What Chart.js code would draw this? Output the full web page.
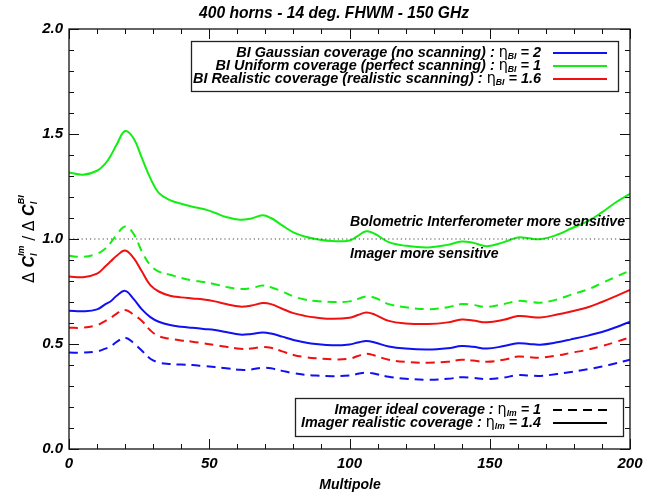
<!DOCTYPE html>
<html>
<head>
<meta charset="utf-8">
<script src="https://cdn.jsdelivr.net/npm/chart.js@4/dist/chart.umd.min.js"></script>
<style>
  html, body { margin: 0; padding: 0; background: #fff; }
  canvas { display: block; }
</style>
</head>
<body>
<canvas id="c" width="671" height="499"></canvas>
<script>
// ── Data (multipole vs. sensitivity ratio) ──
const MULTIPOLE = [0,5,10,13,15,17,20,23,26,29,32,36,40,44,48,52,56,61,65,69,72,76,80,84,88,94,
  100,103,106,109,114,120,128,135,140,144,149,155,160,164,168,174,179,185,190,195,200];

// solid = imager realistic coverage (eta_Im = 1.4)
const UNIFORM_SOLID = [1.317,1.306,1.325,1.36,1.40,1.45,1.514,1.48,1.385,1.29,1.22,1.185,1.168,1.154,1.143,1.125,1.105,1.092,1.098,1.113,1.10,1.065,1.032,1.012,1.0,0.99,
  0.993,1.015,1.037,1.025,0.985,0.968,0.96,0.972,0.988,0.982,0.966,0.985,1.007,1.003,0.999,1.02,1.05,1.085,1.127,1.175,1.215];
const REALISTIC_SOLID = [0.822,0.818,0.835,0.87,0.895,0.92,0.945,0.91,0.845,0.78,0.75,0.73,0.722,0.717,0.712,0.703,0.69,0.678,0.683,0.695,0.69,0.668,0.647,0.634,0.626,0.62,
  0.625,0.638,0.65,0.64,0.61,0.598,0.595,0.603,0.617,0.612,0.603,0.615,0.633,0.63,0.626,0.64,0.655,0.675,0.70,0.728,0.758];
const GAUSSIAN_SOLID = [0.658,0.656,0.665,0.69,0.705,0.73,0.753,0.715,0.665,0.628,0.606,0.59,0.582,0.577,0.572,0.567,0.557,0.545,0.548,0.555,0.55,0.535,0.519,0.508,0.50,0.494,
  0.498,0.507,0.514,0.507,0.488,0.478,0.474,0.48,0.49,0.487,0.478,0.49,0.503,0.50,0.497,0.508,0.522,0.54,0.557,0.58,0.606];

// dashed = imager ideal coverage (eta_Im = 1)
const UNIFORM_DASH = [0.92,0.915,0.93,0.955,0.985,1.02,1.06,1.025,0.94,0.875,0.845,0.83,0.815,0.803,0.795,0.785,0.772,0.762,0.766,0.778,0.77,0.75,0.727,0.712,0.705,0.70,
  0.703,0.715,0.727,0.72,0.69,0.675,0.666,0.675,0.69,0.686,0.677,0.69,0.705,0.702,0.697,0.712,0.735,0.76,0.79,0.82,0.85];
const REALISTIC_DASH = [0.577,0.578,0.59,0.61,0.625,0.645,0.662,0.64,0.61,0.565,0.537,0.525,0.517,0.511,0.503,0.495,0.487,0.477,0.478,0.486,0.482,0.465,0.448,0.438,0.432,0.427,
  0.43,0.443,0.453,0.445,0.425,0.415,0.411,0.416,0.425,0.421,0.415,0.425,0.44,0.437,0.435,0.445,0.458,0.473,0.49,0.51,0.532];
const GAUSSIAN_DASH = [0.459,0.459,0.465,0.478,0.49,0.51,0.53,0.505,0.468,0.43,0.412,0.405,0.402,0.40,0.395,0.39,0.385,0.377,0.379,0.387,0.384,0.372,0.361,0.354,0.35,0.347,
  0.35,0.358,0.364,0.358,0.344,0.335,0.33,0.334,0.342,0.339,0.333,0.34,0.352,0.35,0.348,0.357,0.367,0.38,0.393,0.408,0.425];

// dotted "equal sensitivity" reference
const REF_X = [0, 200];
const REF_Y = [1, 1];

const X_TICKS = [0, 50, 100, 150, 200];
const Y_TICKS = [0.0, 0.5, 1.0, 1.5, 2.0];

// ── styling ──
const BLUE = "#1010f0", GREEN = "#12ee12", RED = "#f01010";
const FONT = '"Liberation Sans", Arial, sans-serif';
const BI = `italic bold 15px ${FONT}`;
const SUB = `italic bold 9px ${FONT}`;
const ETA = `15px "DejaVu Sans", sans-serif`;
const DASH = [9, 6];

const pts = (xs, ys) => xs.map((x, i) => ({ x, y: ys[i] }));
const series = (ys, color, dashed) => ({
  data: pts(MULTIPOLE, ys), borderColor: color, borderWidth: 2,
  borderDash: dashed ? DASH : [], pointRadius: 0,
  tension: 0.4, fill: false
});

// draw a run of text segments (with sub/superscripts), squeezed by k
function runWidth(ctx, parts) {
  let w = 0;
  for (const p of parts) { ctx.font = p.font; w += ctx.measureText(p.t).width; }
  return w;
}
function drawRun(ctx, parts, x, y, k) {
  ctx.save();
  ctx.translate(x, y); ctx.scale(k, 1);
  let cx = 0;
  for (const p of parts) {
    ctx.font = p.font;
    ctx.fillText(p.t, cx, p.dy || 0);
    cx += ctx.measureText(p.t).width;
  }
  ctx.restore();
}
const etaPart = (sub, rest) => [
  { t: "\u03b7", font: ETA }, { t: sub, font: SUB, dy: 4 }, { t: rest, font: BI }
];

const decor = {
  id: "decor",
  beforeDraw(chart) {
    const ctx = chart.ctx;
    ctx.save(); ctx.fillStyle = "#fff"; ctx.fillRect(0, 0, chart.width, chart.height); ctx.restore();
  },
  afterDraw(chart) {
    const ctx = chart.ctx, a = chart.chartArea;
    const xs = chart.scales.x, ys = chart.scales.y;
    ctx.save();
    ctx.fillStyle = "#000"; ctx.strokeStyle = "#111";
    ctx.textBaseline = "middle";

    // frame + inward ticks (IDL style)
    ctx.lineWidth = 1.3;
    ctx.strokeRect(a.left, a.top, a.right - a.left, a.bottom - a.top);
    ctx.lineWidth = 1;
    ctx.beginPath();
    for (let v = 0; v <= 200; v += 10) {
      const px = Math.round(xs.getPixelForValue(v)) + 0.5, len = v % 50 === 0 ? 10 : 5;
      ctx.moveTo(px, a.bottom); ctx.lineTo(px, a.bottom - len);
      ctx.moveTo(px, a.top); ctx.lineTo(px, a.top + len);
    }
    for (let i = 0; i <= 20; i++) {
      const py = Math.round(ys.getPixelForValue(i / 10)) + 0.5, len = i % 5 === 0 ? 10 : 5;
      ctx.moveTo(a.left, py); ctx.lineTo(a.left + len, py);
      ctx.moveTo(a.right, py); ctx.lineTo(a.right - len, py);
    }
    ctx.stroke();

    // title
    ctx.textAlign = "left";
    const tt = [{ t: "400 horns - 14 deg. FHWM - 150 GHz", font: `italic bold 17px ${FONT}` }];
    const kt = 270 / runWidth(ctx, tt);
    drawRun(ctx, tt, 199, 13, kt);

    // x axis title
    ctx.textAlign = "center";
    ctx.font = `italic bold 14px ${FONT}`;
    ctx.fillText("Multipole", 350, 485);

    // y axis title, rotated
    ctx.save();
    ctx.translate(29, 239); ctx.rotate(-Math.PI / 2);
    ctx.textAlign = "left";
    const yt = [
      { t: "\u0394 ", font: `15px "DejaVu Sans", sans-serif`, dy: 1 },
      { t: "C", font: `italic bold 16px ${FONT}`, dy: 1 },
      { t: "l", font: SUB, dy: 6 },
      { t: "Im", font: SUB, dy: -7, back: true },
      { t: " / \u0394 ", font: `15px "DejaVu Sans", sans-serif`, dy: 1 },
      { t: "C", font: `italic bold 16px ${FONT}`, dy: 1 },
      { t: "l", font: SUB, dy: 6 },
      { t: "BI", font: SUB, dy: -7, back: true }
    ];
    // sub and sup stacked: superscript starts where subscript started
    let tw = 0, lastSubW = 0;
    for (const p of yt) { ctx.font = p.font; const w = ctx.measureText(p.t).width;
      if (p.back) { tw += Math.max(0, w - lastSubW); } else { tw += w; } lastSubW = w; }
    let cx = -tw / 2; lastSubW = 0;
    for (const p of yt) {
      ctx.font = p.font; const w = ctx.measureText(p.t).width;
      if (p.back) { ctx.fillText(p.t, cx - lastSubW, p.dy); cx += Math.max(0, w - lastSubW); }
      else { ctx.fillText(p.t, cx, p.dy); cx += w; }
      lastSubW = w;
    }
    ctx.restore();

    // annotations about the dotted line
    ctx.textAlign = "left";
    const ann1 = [{ t: "Bolometric Interferometer more sensitive", font: BI }];
    const ann2 = [{ t: "Imager more sensitive", font: BI }];
    const ka = 275 / runWidth(ctx, ann1);
    drawRun(ctx, ann1, 350, 222, ka);
    drawRun(ctx, ann2, 350, 254, ka);

    // legend 1 (bolometric interferometer coverages)
    ctx.lineWidth = 1.3; ctx.strokeStyle = "#222";
    ctx.fillStyle = "#fff"; ctx.fillRect(191, 41, 427, 50);
    ctx.strokeRect(191.5, 41.5, 427, 50);
    ctx.fillStyle = "#000";
    const L1 = [
      { parts: [{ t: "BI Gaussian coverage (no scanning) : ", font: BI }, ...etaPart("BI", " = 2")], c: BLUE, y: 53 },
      { parts: [{ t: "BI Uniform coverage (perfect scanning) : ", font: BI }, ...etaPart("BI", " = 1")], c: GREEN, y: 66 },
      { parts: [{ t: "BI Realistic coverage (realistic scanning) : ", font: BI }, ...etaPart("BI", " = 1.6")], c: RED, y: 79 }
    ];
    const k1 = 348 / runWidth(ctx, L1[2].parts);
    for (const r of L1) {
      drawRun(ctx, r.parts, 541 - runWidth(ctx, r.parts) * k1, r.y, k1);
      ctx.strokeStyle = r.c; ctx.lineWidth = 2; ctx.setLineDash([]);
      ctx.beginPath(); ctx.moveTo(553, r.y); ctx.lineTo(607, r.y); ctx.stroke();
    }

    // legend 2 (imager coverages)
    ctx.lineWidth = 1.3; ctx.strokeStyle = "#222";
    ctx.fillStyle = "#fff"; ctx.fillRect(295, 398, 328, 38);
    ctx.strokeRect(295.5, 398.5, 328, 38);
    ctx.fillStyle = "#000";
    const L2 = [
      { parts: [{ t: "Imager ideal coverage : ", font: BI }, ...etaPart("Im", " = 1")], dash: DASH, y: 410 },
      { parts: [{ t: "Imager realistic coverage : ", font: BI }, ...etaPart("Im", " = 1.4")], dash: [], y: 423 }
    ];
    const k2 = 240 / runWidth(ctx, L2[1].parts);
    for (const r of L2) {
      drawRun(ctx, r.parts, 541 - runWidth(ctx, r.parts) * k2, r.y, k2);
      ctx.strokeStyle = "#000"; ctx.lineWidth = 2; ctx.setLineDash(r.dash);
      ctx.beginPath(); ctx.moveTo(553, r.y); ctx.lineTo(607, r.y); ctx.stroke();
    }
    ctx.setLineDash([]);
    ctx.restore();
  }
};

new Chart(document.getElementById("c"), {
  type: "line",
  data: {
    datasets: [
      { data: pts(REF_X, REF_Y), borderColor: "#444", borderWidth: 1.2, borderDash: [1.2, 3], pointRadius: 0 },
      series(UNIFORM_SOLID, GREEN, false),
      series(UNIFORM_DASH, GREEN, true),
      series(REALISTIC_SOLID, RED, false),
      series(REALISTIC_DASH, RED, true),
      series(GAUSSIAN_SOLID, BLUE, false),
      series(GAUSSIAN_DASH, BLUE, true)
    ]
  },
  options: {
    responsive: false, animation: false, devicePixelRatio: 1,
    layout: { padding: { top: 29, right: 41, left: 0, bottom: 0 } },
    plugins: { legend: { display: false }, tooltip: { enabled: false }, title: { display: false } },
    scales: {
      x: {
        type: "linear", min: 0, max: 200,
        afterFit: s => { s.height = 50; },
        afterBuildTicks: s => { s.ticks = X_TICKS.map(v => ({ value: v })); },
        grid: { display: false, drawTicks: false },
        border: { display: false },
        ticks: { color: "#000", padding: 6, maxRotation: 0, font: { family: FONT, size: 15, style: "italic", weight: "bold" } }
      },
      y: {
        min: 0, max: 2,
        afterFit: s => { s.width = 69; },
        afterBuildTicks: s => { s.ticks = Y_TICKS.map(v => ({ value: v })); },
        grid: { display: false, drawTicks: false },
        border: { display: false },
        ticks: { color: "#000", padding: 6, callback: v => v.toFixed(1),
                 font: { family: FONT, size: 15, style: "italic", weight: "bold" } }
      }
    }
  },
  plugins: [decor]
});
</script>
</body>
</html>
